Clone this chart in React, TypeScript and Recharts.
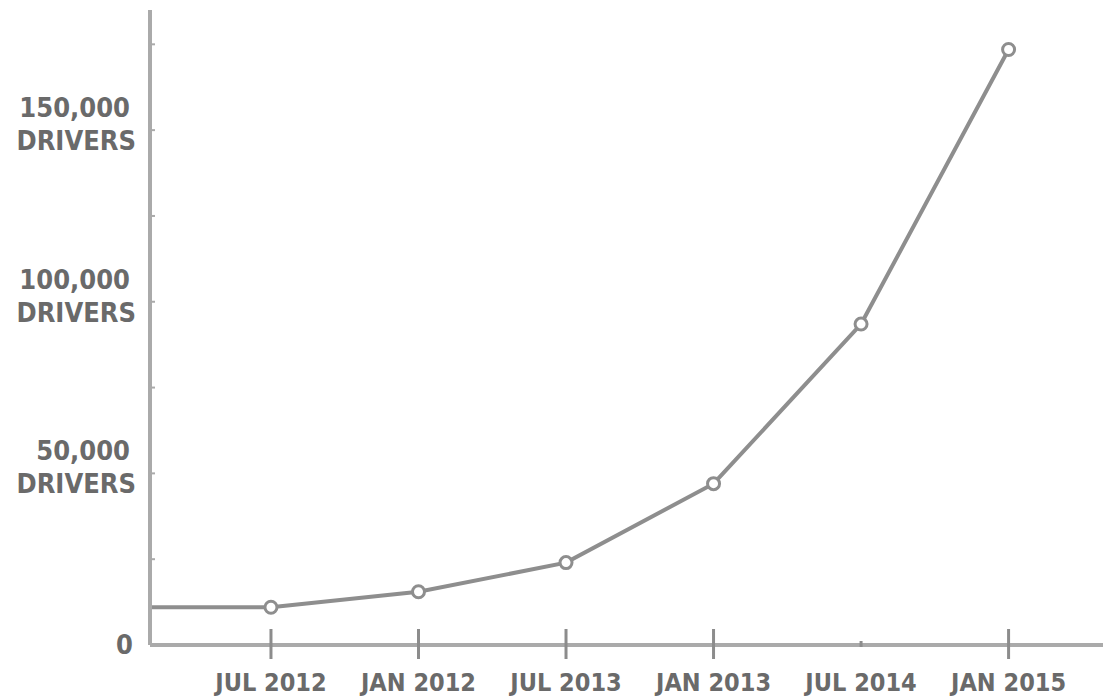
import React from "react";
import { LineChart, Line, XAxis, YAxis } from "recharts";

// Driver counts per reporting period
const periodLabels = ["JUL 2012", "JAN 2012", "JUL 2013", "JAN 2013", "JUL 2014", "JAN 2015"];
const periodIndex = [0, 1, 2, 3, 4, 5];
const driverCounts = [11000, 15500, 24000, 47000, 93500, 173500];

// Y axis: labelled values and the small guide marks every 25,000
const yLabelValues = [0, 50000, 100000, 150000];
const yMarkValues = [0, 25000, 50000, 75000, 100000, 125000, 150000, 175000];
const yUnit = "DRIVERS";

const W = 1103;
const H = 698;
const X_START = -0.82;
const X_END = 5.64;
const Y_MAX = 185000;

const AXIS_COLOR = "#aaaaaa";
const TICK_COLOR = "#8c8c8c";
const LINE_COLOR = "#8e8e8e";
const TEXT_COLOR = "#6a6a6a";
const FONT = "'DejaVu Sans Condensed', 'Liberation Sans Narrow', 'DejaVu Sans', sans-serif";

// the series starts flat from the y axis at the first reported value
const rows = [
  { x: X_START, drivers: driverCounts[0], lead: true },
  ...periodIndex.map((x, i) => ({ x, drivers: driverCounts[i], lead: false })),
];

const fmt = (v: number) => v.toLocaleString("en-US");

const XTick = (props: any) => {
  const { x, y, payload, index } = props;
  const faint = index === 4;
  return (
    <g>
      {faint ? (
        <line x1={x} x2={x} y1={y - 4} y2={y + 2} stroke={TICK_COLOR} strokeWidth={3} />
      ) : (
        <line x1={x} x2={x} y1={y - 16} y2={y + 14} stroke={TICK_COLOR} strokeWidth={3} />
      )}
      <text
        x={x}
        y={y + 46}
        textAnchor="middle"
        fill={TEXT_COLOR}
        fontFamily={FONT}
        fontWeight="bold"
        fontSize={25}
      >
        {periodLabels[payload.value]}
      </text>
    </g>
  );
};

const YTick = (props: any) => {
  const { x, y, payload } = props;
  const v = payload.value as number;
  const labelled = yLabelValues.includes(v);
  return (
    <g>
      {v !== 0 && <line x1={x + 1} x2={x + 5} y1={y} y2={y} stroke={AXIS_COLOR} strokeWidth={2} />}
      {labelled && v === 0 && (
        <text x={x - 17} y={y + 9} textAnchor="end" fill={TEXT_COLOR} fontFamily={FONT} fontWeight="bold" fontSize={27}>
          {fmt(v)}
        </text>
      )}
      {labelled && v !== 0 && (
        <text textAnchor="end" fill={TEXT_COLOR} fontFamily={FONT} fontWeight="bold" fontSize={27}>
          <tspan x={x - 20} y={y - 13}>{fmt(v)}</tspan>
          <tspan x={x - 14} y={y + 20}>{yUnit}</tspan>
        </text>
      )}
    </g>
  );
};

const Dot = (props: any) => {
  const { cx, cy, payload } = props;
  if (payload.lead) return <g key={`d-${cx}`} />;
  return <circle key={`d-${cx}`} cx={cx} cy={cy} r={6} fill="#ffffff" stroke={LINE_COLOR} strokeWidth={3} />;
};

export default function App() {
  return (
    <div style={{ position: "absolute", left: 0, top: 0, width: W, height: H, background: "#ffffff" }}>
      <LineChart width={W} height={H} data={rows} margin={{ top: 10, right: 0, bottom: 0, left: 0 }}>
        <XAxis
          dataKey="x"
          type="number"
          domain={[X_START, X_END]}
          ticks={periodIndex}
          allowDataOverflow
          height={53}
          axisLine={{ stroke: AXIS_COLOR, strokeWidth: 4 }}
          tickLine={false}
          tickSize={0}
          tickMargin={0}
          tick={<XTick />}
          interval={0}
        />
        <YAxis
          type="number"
          domain={[0, Y_MAX]}
          ticks={yMarkValues}
          width={150}
          axisLine={{ stroke: AXIS_COLOR, strokeWidth: 4 }}
          tickLine={false}
          tickSize={0}
          tickMargin={0}
          tick={<YTick />}
          interval={0}
        />
        <Line
          type="linear"
          dataKey="drivers"
          stroke={LINE_COLOR}
          strokeWidth={4}
          dot={<Dot />}
          activeDot={false}
          isAnimationActive={false}
        />
      </LineChart>
    </div>
  );
}
